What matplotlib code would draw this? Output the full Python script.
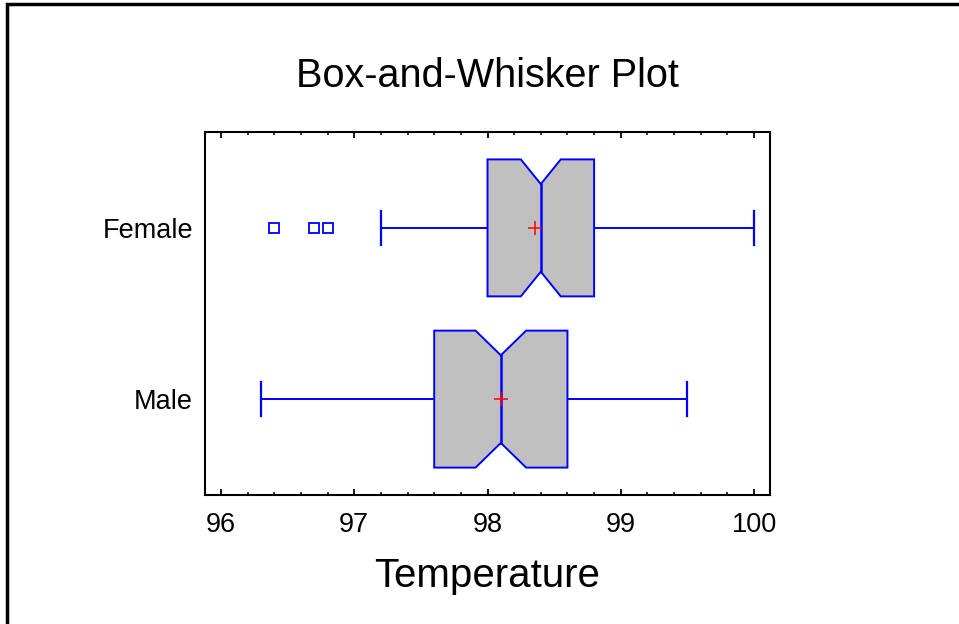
import matplotlib.pyplot as plt
from matplotlib.patches import Polygon, Rectangle
from matplotlib.ticker import MultipleLocator

plt.rcParams['font.family'] = ['Liberation Sans', 'DejaVu Sans']

groups = ['Male', 'Female']
q1 = [97.6, 98.0]
q3 = [98.6, 98.8]
medians = [98.1, 98.4]
notch_lo = [97.91, 98.25]
notch_hi = [98.29, 98.55]
whisk_lo = [96.3, 97.2]
whisk_hi = [99.5, 100.0]
means = [98.1, 98.36]
outliers = [[], [96.4, 96.7, 96.8]]

blue = '#0000FF'
h = 0.40      # half height of box
n = 0.256     # half height at the notch
cap = 0.10

fig = plt.figure(figsize=(9.59, 6.24), dpi=100)
ax = fig.add_axes([205/959, 129/624, 565/959, 363/624])

for i, g in enumerate(groups):
    c = i + 1
    pts = [(q1[i], c - h), (notch_lo[i], c - h), (medians[i], c - n),
           (notch_hi[i], c - h), (q3[i], c - h), (q3[i], c + h),
           (notch_hi[i], c + h), (medians[i], c + n), (notch_lo[i], c + h),
           (q1[i], c + h)]
    ax.add_patch(Polygon(pts, closed=True, facecolor='#C0C0C0',
                         edgecolor=blue, linewidth=1.4, zorder=2))
    ax.plot([medians[i], medians[i]], [c - n, c + n], color=blue, lw=1.8, zorder=3)
    # whiskers
    ax.plot([whisk_lo[i], q1[i]], [c, c], color=blue, lw=1.4, zorder=1)
    ax.plot([q3[i], whisk_hi[i]], [c, c], color=blue, lw=1.4, zorder=1)
    ax.plot([whisk_lo[i], whisk_lo[i]], [c - cap, c + cap], color=blue, lw=1.6)
    ax.plot([whisk_hi[i], whisk_hi[i]], [c - cap, c + cap], color=blue, lw=1.6)
    # mean
    ax.plot(means[i], c, marker='+', color='red', markersize=10, mew=1.1, zorder=4)
    if outliers[i]:
        ax.plot(outliers[i], [c] * len(outliers[i]), linestyle='none', marker='s',
                markersize=7, mfc='none', mec=blue, mew=1.3)

ax.set_xlim(95.88, 100.12)
ax.set_ylim(0.44, 2.56)
ax.set_yticks([1, 2])
ax.set_yticklabels(groups, fontsize=19.5)
ax.tick_params(axis='y', length=0, pad=8.5)

ax.xaxis.set_major_locator(MultipleLocator(1))
ax.xaxis.set_minor_locator(MultipleLocator(0.2))
ax.tick_params(axis='x', which='major', direction='in', length=4.5, width=1.3,
               top=True, labelsize=19.5, pad=12)
ax.tick_params(axis='x', which='minor', direction='in', length=2.3, width=1.1, top=True)
for s in ax.spines.values():
    s.set_linewidth(1.5)

ax.set_xlabel('Temperature', fontsize=29, labelpad=14)
fig.text(487/959, 1 - 87/624, 'Box-and-Whisker Plot', fontsize=28.5,
         ha='center', va='baseline')

# outer frame
fig.add_artist(Rectangle((7/959, -0.1), 1.2, 1.1 - 3.5/624, transform=fig.transFigure,
                         fill=False, edgecolor='black', linewidth=2.5))

fig.savefig('out.png', dpi=100)
